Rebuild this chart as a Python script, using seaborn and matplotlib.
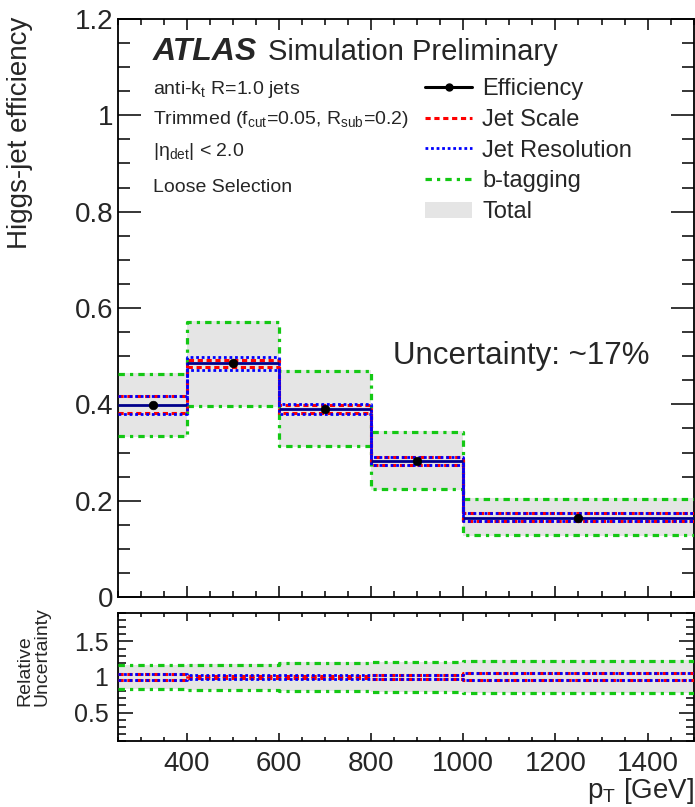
import numpy as np
import pandas as pd
import matplotlib
matplotlib.use("Agg")
import matplotlib.pyplot as plt
from matplotlib.lines import Line2D
from matplotlib.patches import Patch
from matplotlib.ticker import MultipleLocator
import seaborn as sns

# Jet pT binning [GeV]
bin_edges = [250, 400, 600, 800, 1000, 1500]
bin_centers = [325, 500, 700, 900, 1250]

# Higgs-jet tagging efficiency per bin
efficiency = [0.399, 0.486, 0.390, 0.283, 0.165]

# Systematic variations (up / down efficiency)
jes_up = [0.417, 0.493, 0.398, 0.290, 0.174]
jes_down = [0.381, 0.478, 0.382, 0.275, 0.157]
jer_up = [0.418, 0.499, 0.401, 0.291, 0.174]
jer_down = [0.380, 0.472, 0.380, 0.274, 0.157]
btag_up = [0.464, 0.570, 0.469, 0.342, 0.203]
btag_down = [0.334, 0.397, 0.314, 0.224, 0.129]
total_up = [0.466, 0.572, 0.471, 0.344, 0.205]
total_down = [0.332, 0.395, 0.312, 0.222, 0.127]

legend_labels = ["Efficiency", "Jet Scale", "Jet Resolution", "b-tagging", "Total"]

sns.set_theme(style="ticks")
plt.rcParams["font.family"] = ["Liberation Sans", "DejaVu Sans"]
plt.rcParams["mathtext.fontset"] = "custom"
plt.rcParams["mathtext.rm"] = "Liberation Sans"
plt.rcParams["mathtext.it"] = "Liberation Sans:italic"
plt.rcParams["mathtext.bf"] = "Liberation Sans:bold"
plt.rcParams["axes.linewidth"] = 1.3
plt.rcParams["axes.edgecolor"] = "black"

RED = "#ff0000"
BLUE = "#0000ff"
GREEN = "#14c814"
GREY = "#e5e5e5"
NAVY = "#00008b"

ls_red = (0, (1.7, 1.2))
ls_blue = (0, (1.0, 1.0))
ls_green = (0, (2.0, 1.6, 1.0, 1.6))

W, H = 695, 807
fig = plt.figure(figsize=(W / 100, H / 100), dpi=100)
ax = fig.add_axes([0.1698, 0.2602, 0.8282, 0.7163])
rax = fig.add_axes([0.1698, 0.0818, 0.8282, 0.1586])


def stepped(vals):
    return list(vals) + [vals[-1]]


def draw_panel(a, centre, jes_u, jes_d, jer_u, jer_d, bt_u, bt_d, tot_u, tot_d, with_centre):
    a.fill_between(bin_edges, stepped(tot_d), stepped(tot_u), step="post",
                   color=GREY, lw=0, zorder=1)
    for up, down, colour, ls, lw in [
        (bt_u, bt_d, GREEN, ls_green, 2.3),
        (jes_u, jes_d, RED, ls_red, 2.2),
        (jer_u, jer_d, BLUE, ls_blue, 2.0),
    ]:
        for series in (up, down):
            sns.lineplot(x=bin_edges, y=stepped(series), drawstyle="steps-post",
                         color=colour, linestyle=ls, lw=lw, ax=a, sort=False,
                         errorbar=None, legend=False, zorder=3)
    if with_centre:
        a.hlines(centre, bin_edges[:-1], bin_edges[1:], color=NAVY, lw=2.0, zorder=4)
        sns.scatterplot(x=bin_centers, y=centre, color="black", s=38,
                        edgecolor="black", ax=a, zorder=5, legend=False)


draw_panel(ax, efficiency, jes_up, jes_down, jer_up, jer_down,
           btag_up, btag_down, total_up, total_down, True)

eff = np.array(efficiency)
rel = lambda s: list(np.array(s) / eff)
draw_panel(rax, [1.0] * 5, rel(jes_up), rel(jes_down), rel(jer_up), rel(jer_down),
           rel(btag_up), rel(btag_down), rel(total_up), rel(total_down), False)

# Axes ranges and ticks
for a in (ax, rax):
    a.set_xlim(250, 1500)
    a.xaxis.set_major_locator(MultipleLocator(200))
    a.xaxis.set_minor_locator(MultipleLocator(50))
    a.tick_params(which="both", direction="in", top=True, right=True,
                  labelsize=20, width=1.1, color="black")
    for s in a.spines.values():
        s.set_visible(True)
        s.set_color("black")
    a.set_xlabel("")
    a.set_ylabel("")

ax.set_ylim(0, 1.2)
ax.yaxis.set_minor_locator(MultipleLocator(0.05))
ax.set_yticks([0, 0.2, 0.4, 0.6, 0.8, 1.0, 1.2])
ax.set_yticklabels(["0", "0.2", "0.4", "0.6", "0.8", "1", "1.2"])
ax.tick_params(axis="y", which="major", length=16.5, pad=3.5)
ax.tick_params(axis="y", which="minor", length=8.5)
ax.tick_params(axis="x", which="major", length=8)
ax.tick_params(axis="x", which="minor", length=4)
ax.tick_params(axis="x", labelbottom=False)

rax.set_ylim(0.1, 1.9)
rax.set_yticks([0.5, 1.0, 1.5])
rax.set_yticklabels(["0.5", "1", "1.5"])
rax.yaxis.set_minor_locator(MultipleLocator(0.1))
rax.tick_params(axis="y", which="major", length=11, pad=7, labelsize=18)
rax.tick_params(axis="y", which="minor", length=5.5)
rax.tick_params(axis="x", which="major", length=6, pad=7)
rax.tick_params(axis="x", which="minor", length=3)
rax.set_xticks([400, 600, 800, 1000, 1200, 1400])

# Axis titles
fig.text(20 / W, 1 - 17 / H, "Higgs-jet efficiency", rotation=90, fontsize=20,
         ha="center", va="top")
fig.text(33 / W, 1 - 706 / H, "Relative\nUncertainty", rotation=90, fontsize=14,
         ha="center", va="bottom", linespacing=1.0, multialignment="left")
fig.text(0.999, 1 - 791 / H, r"p$_{\mathregular{T}}$ [GeV]", fontsize=20,
         ha="right", va="center")

# Labels inside the main panel
fig.text(153 / W, 1 - 52 / H, "ATLAS", fontsize=23, fontweight="bold", style="italic",
         va="center", ha="left")
fig.text(268 / W, 1 - 52 / H, "Simulation Preliminary", fontsize=21, va="center", ha="left")
info_lines = [
    (90, r"anti-k$_{\mathregular{t}}$ R=1.0 jets"),
    (120, r"Trimmed (f$_{\mathregular{cut}}$=0.05, R$_{\mathregular{sub}}$=0.2)"),
    (152, r"|$\mathregular{\eta_{det}}$| < 2.0"),
    (187, "Loose Selection"),
]
for ypix, txt in info_lines:
    fig.text(153 / W, 1 - ypix / H, txt, fontsize=14, va="center", ha="left")

fig.text(393 / W, 1 - 356 / H, "Uncertainty: ~17%", fontsize=22.5, va="center", ha="left")

handles = [
    Line2D([], [], color="black", lw=2.2, marker="o", markersize=5),
    Line2D([], [], color=RED, lw=2.2, linestyle=ls_red),
    Line2D([], [], color=BLUE, lw=2.0, linestyle=ls_blue),
    Line2D([], [], color=GREEN, lw=2.3, linestyle=ls_green),
    Patch(facecolor=GREY, edgecolor="none"),
]
ax.legend(handles, legend_labels, loc="upper left", bbox_to_anchor=(425 / W, 0.903),
          bbox_transform=fig.transFigure, frameon=False, fontsize=17,
          handlelength=2.0, handletextpad=0.42, labelspacing=0.37,
          borderaxespad=0, borderpad=0)

fig.savefig("out.png", dpi=100)
